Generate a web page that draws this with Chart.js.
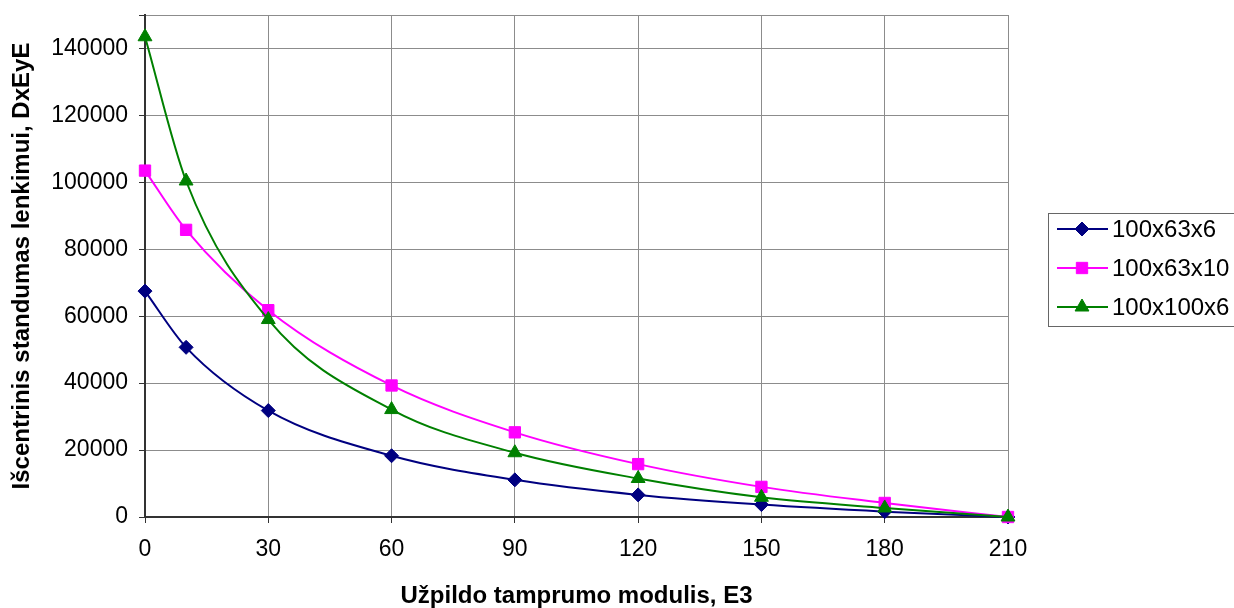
<!DOCTYPE html>
<html>
<head>
<meta charset="utf-8">
<title>Išcentrinis standumas lenkimui</title>
<script src="https://cdn.jsdelivr.net/npm/chart.js@4/dist/chart.umd.min.js"></script>
<style>
  html, body { margin: 0; padding: 0; background: #fff; }
  #wrap { position: relative; width: 1234px; height: 608px; }
</style>
</head>
<body>
<div id="wrap"><canvas id="stiffness-chart"></canvas></div>
<script>
/* ── Data ── */
const E3_VALUES   = [0, 10, 30, 60, 90, 120, 150, 180, 210];
const S_63x6      = [67500, 50700, 31800, 18300, 11100, 6600, 3700, 1600, 0];
const S_63x10     = [103500, 85800, 61800, 39300, 25300, 15800, 9000, 4200, 0];
const S_100x6     = [143500, 100400, 59000, 32100, 19200, 11500, 5900, 2700, 0];
const SERIES_NAMES = ['100x63x6', '100x63x10', '100x100x6'];
const X_TICKS     = [0, 30, 60, 90, 120, 150, 180, 210];
const Y_TICKS     = [0, 20000, 40000, 60000, 80000, 100000, 120000, 140000];

/* ── Style ── */
const FONT       = "'Liberation Sans', Arial, sans-serif";
const GRID_COLOR = '#8c8c8c';
const AXIS_COLOR = '#333';
const COLORS     = ['#000080', '#ff00ff', '#008000'];
const STYLES     = ['rectRot', 'rect', 'triangle'];
const RADII      = [7, 8, 8];

const toPoints = ys => ys.map((y, i) => ({ x: E3_VALUES[i], y }));

function series(idx, values, order) {
  return {
    label:            SERIES_NAMES[idx],
    data:             toPoints(values),
    borderColor:      COLORS[idx],
    backgroundColor:  COLORS[idx],
    borderWidth:      2,
    pointStyle:       STYLES[idx],
    pointRadius:      RADII[idx],
    pointBorderWidth: 1,
    pointBorderColor: COLORS[idx],
    cubicInterpolationMode: 'monotone',
    clip:             false,
    order,
  };
}

/* no label overhang: the plot box is set by layout padding alone */
function noOverhang(scale) {
  scale.paddingTop = 0;
  scale.paddingBottom = 0;
  scale.paddingLeft = 0;
  scale.paddingRight = 0;
}

/* ── Legend box on the right ── */
const boxLegend = {
  id: 'boxLegend',
  afterDraw(chart) {
    const ctx = chart.ctx;
    const left = 1048, top = 213, bottom = 326;
    ctx.save();
    ctx.strokeStyle = '#666';
    ctx.lineWidth = 1;
    ctx.strokeRect(left + 0.5, top + 0.5, 240, bottom - top);

    const rows = [229, 268, 307];
    [0, 1, 2].forEach((idx, r) => {
      const y = rows[r];
      ctx.strokeStyle = COLORS[idx];
      ctx.fillStyle = COLORS[idx];
      ctx.lineWidth = 2;
      ctx.beginPath();
      ctx.moveTo(1057, y);
      ctx.lineTo(1108, y);
      ctx.stroke();
      ctx.lineWidth = 1;
      Chart.helpers.drawPoint(ctx, {
        pointStyle: STYLES[idx], radius: RADII[idx], rotation: 0, borderWidth: 1,
      }, 1082, y);
      ctx.fillStyle = '#000';
      ctx.font = '24px ' + FONT;
      ctx.textAlign = 'left';
      ctx.textBaseline = 'middle';
      ctx.fillText(SERIES_NAMES[idx], 1112, y + 1);
    });
    ctx.restore();
  },
};

/* ── Chart ── */
new Chart(document.getElementById('stiffness-chart'), {
  type: 'line',
  data: {
    datasets: [
      series(0, S_63x6, 2),
      series(1, S_63x10, 1),
      series(2, S_100x6, 0),
    ],
  },
  options: {
    responsive:          true,
    maintainAspectRatio: false,
    animation:           false,
    layout: { padding: { top: 15, right: 226, left: 0, bottom: 0 } },
    plugins: {
      legend:  { display: false },
      tooltip: { enabled: false },
    },
    scales: {
      x: {
        type: 'linear',
        min: 0,
        max: 210,
        afterBuildTicks: scale => { scale.ticks = X_TICKS.map(v => ({ value: v })); },
        afterFit: scale => { scale.height = 91; noOverhang(scale); },
        grid:   { color: GRID_COLOR, tickColor: AXIS_COLOR, tickLength: 6 },
        border: { color: AXIS_COLOR, width: 2 },
        ticks:  { color: '#000', font: { family: FONT, size: 23 }, padding: 13, maxRotation: 0 },
        title: {
          display: true,
          text: 'Užpildo tamprumo modulis, E3',
          color: '#000',
          font: { family: FONT, size: 24, weight: 'bold', lineHeight: 1 },
          padding: { top: 0, bottom: 0 },
        },
      },
      y: {
        min: 0,
        max: 150000,
        afterBuildTicks: scale => {
          scale.ticks = Y_TICKS.concat([150000]).map(v => ({ value: v }));
        },
        afterFit: scale => { scale.width = 145; noOverhang(scale); },
        grid:   { color: GRID_COLOR, tickColor: AXIS_COLOR, tickLength: 6 },
        border: { color: AXIS_COLOR, width: 2 },
        ticks: {
          color: '#000',
          font: { family: FONT, size: 23 },
          padding: 11,
          callback: v => (Y_TICKS.includes(v) ? String(v) : ''),
        },
        title: {
          display: true,
          text: 'Išcentrinis standumas lenkimui, DxEyE',
          color: '#000',
          font: { family: FONT, size: 24, weight: 'bold', lineHeight: 1 },
          padding: { top: 10, bottom: 0 },
        },
      },
    },
  },
  plugins: [boxLegend],
});
</script>
</body>
</html>
